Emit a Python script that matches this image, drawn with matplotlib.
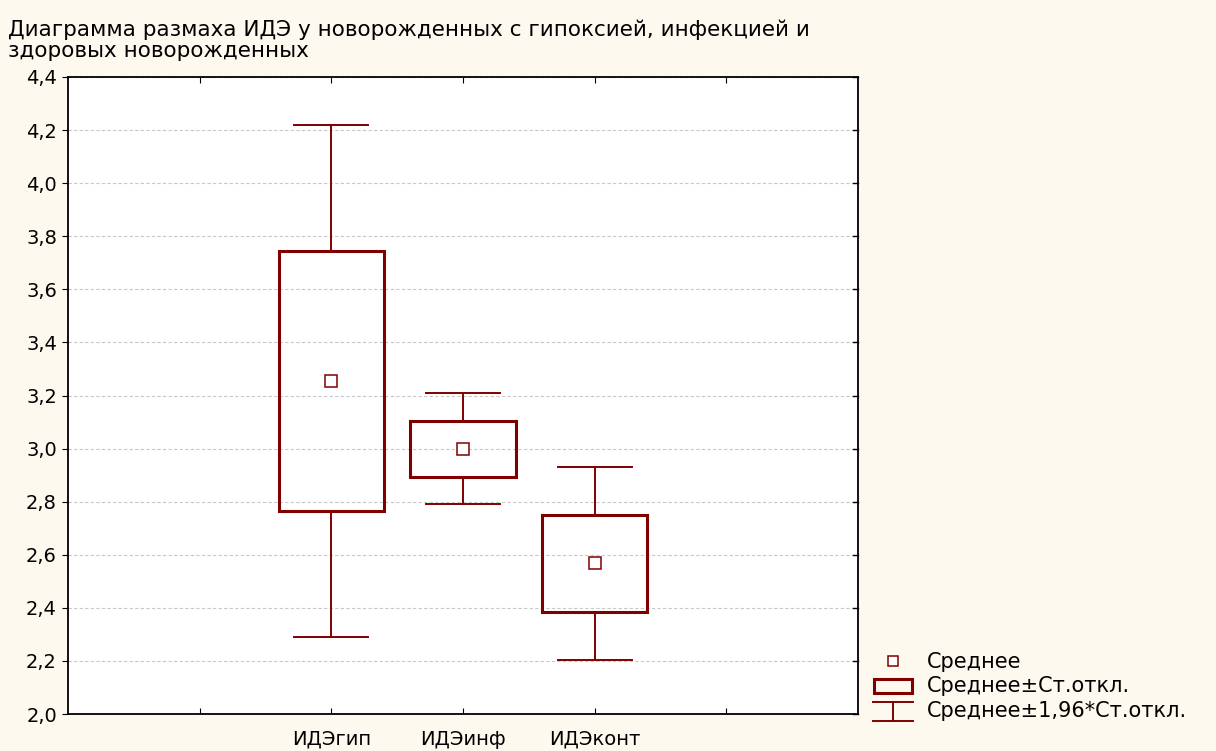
import matplotlib
matplotlib.use("Agg")
import matplotlib.pyplot as plt
from matplotlib.patches import Rectangle
import numpy as np

plt.rcParams['font.family'] = ['DejaVu Sans']

categories = ['ИДЭгип', 'ИДЭинф', 'ИДЭконт']
means = [3.255, 2.998, 2.569]
box_low = [2.765, 2.893, 2.384]
box_high = [3.744, 3.104, 2.750]
whisk_low = [2.290, 2.791, 2.203]
whisk_high = [4.219, 3.209, 2.930]
legend_labels = ['Среднее', 'Среднее±Ст.откл.', 'Среднее±1,96*Ст.откл.']

red = '#800000'
bg = '#fdf9ee'

fig = plt.figure(figsize=(12.16, 7.51), dpi=100, facecolor=bg)
ax = fig.add_axes([68/1216, 1-714/751, (858-68)/1216, (714-77)/751])
ax.set_facecolor('white')

pos = np.arange(len(categories)) + 2
box_w = 0.8
cap_w = 0.56
for x, m, bl, bh, wl, wh in zip(pos, means, box_low, box_high, whisk_low, whisk_high):
    ax.add_patch(Rectangle((x - box_w/2, bl), box_w, bh - bl, fill=False,
                           edgecolor=red, lw=2.2, zorder=3))
    ax.plot([x, x], [bh, wh], color=red, lw=1.4, zorder=3)
    ax.plot([x, x], [wl, bl], color=red, lw=1.4, zorder=3)
    ax.plot([x - cap_w/2, x + cap_w/2], [wh, wh], color=red, lw=1.4, zorder=3)
    ax.plot([x - cap_w/2, x + cap_w/2], [wl, wl], color=red, lw=1.4, zorder=3)
    ax.plot([x], [m], marker='s', ms=8, mfc='white', mec=red, mew=1.1, zorder=4)

ax.set_xlim(0, 6)
ax.set_ylim(2.0, 4.4)
yt = np.arange(2.0, 4.41, 0.2)
ax.set_yticks(yt)
ax.set_yticklabels([f'{v:.1f}'.replace('.', ',') for v in yt], fontsize=14)
ax.set_xticks([1, 2, 3, 4, 5])
ax.set_xticklabels(['', 'ИДЭгип', 'ИДЭинф', 'ИДЭконт', ''], fontsize=14)
for lbl in ax.get_xticklabels():
    lbl.set_verticalalignment('baseline')
ax.yaxis.grid(True, color='#c8c8c8', ls=(0, (3, 2)), lw=0.8)
ax.set_axisbelow(True)
ax.tick_params(axis='x', direction='in', top=True, length=4, pad=22, colors='black')
ax.tick_params(axis='y', direction='out', right=False, length=4, pad=4)
for yv in yt:
    ax.plot([6 - 0.035, 6], [yv, yv], color='black', lw=1, clip_on=False)
for s in ax.spines.values():
    s.set_linewidth(1.3)

fig.text(8/1216, 1-30/751, 'Диаграмма размаха ИДЭ у новорожденных с гипоксией, инфекцией и',
         fontsize=15.5, va='center', ha='left')
fig.text(8/1216, 1-51/751, 'здоровых новорожденных', fontsize=15.5, va='center', ha='left')

# legend
lg = fig.add_axes([0, 0, 1, 1], facecolor='none')
lg.set_xlim(0, 1216)
lg.set_ylim(751, 0)
lg.axis('off')
lg.plot([893], [661], marker='s', ms=7, mfc='white', mec=red, mew=1.1)
lg.add_patch(Rectangle((874, 679), 38, 14, fill=False, edgecolor=red, lw=2.2))
lg.plot([873, 913], [702, 702], color=red, lw=1.4)
lg.plot([873, 913], [721, 721], color=red, lw=1.4)
lg.plot([893, 893], [702, 721], color=red, lw=1.4)
for i, t in enumerate(legend_labels):
    lg.text(927, 662 + i*24.5, t, fontsize=15, va='center', ha='left')

fig.savefig('out.png', dpi=100, facecolor=bg)
